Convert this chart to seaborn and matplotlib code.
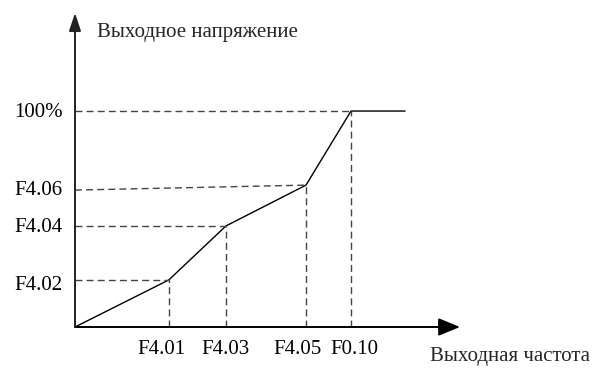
import matplotlib
matplotlib.use("Agg")
import matplotlib.pyplot as plt
import seaborn as sns
import pandas as pd

# Data (normalized: F0.10 frequency = 100, 100% voltage = 100)
point_names_x = ["F4.01", "F4.03", "F4.05", "F0.10"]
point_names_y = ["F4.02", "F4.04", "F4.06", "100%"]
freq = [0, 34.0, 54.7, 83.7, 100.0, 119.6]
volt = [0, 21.8, 46.8, 65.7, 100.0, 100.0]
x_label_pos = [31.2, 54.7, 80.8, 101.4]
y_label_pos = [20.4, 47.2, 64.4, 100.5]
f406_axis_start = 63.4
x_title = "Выходная частота"
y_title = "Выходное напряжение"

sns.set_theme(style="white")
plt.rcParams["font.family"] = ["Liberation Serif", "DejaVu Serif"]

W, H = 593, 370
fig = plt.figure(figsize=(W / 100, H / 100), dpi=100)
ax = fig.add_axes([75 / W, (H - 327) / H, 385 / W, 314 / H])
ax.set_xlim(0, 139.5)
ax.set_ylim(0, 145.4)

df = pd.DataFrame({"f": freq, "v": volt})
sns.lineplot(data=df, x="f", y="v", ax=ax, color="black", lw=1.0, sort=False)

dash = dict(color="#444444", lw=1.0, linestyle=(0, (5, 3)))
for i in range(1, 5):
    xi, yi = freq[i], volt[i]
    ax.plot([xi, xi], [0, yi], **dash)
    y0 = f406_axis_start if i == 3 else yi
    ax.plot([0, xi], [y0, yi], **dash)

for s in ax.spines.values():
    s.set_visible(False)

ax.annotate("", xy=(1, 0), xytext=(0, 0), xycoords="axes fraction",
            arrowprops=dict(arrowstyle="-|>,head_length=1.1,head_width=0.45",
                            color="black", lw=1.4, shrinkA=0, shrinkB=0))
ax.annotate("", xy=(0, 1), xytext=(0, 0), xycoords="axes fraction",
            arrowprops=dict(arrowstyle="-|>,head_length=0.9,head_width=0.3",
                            color="#222222", lw=1.4, shrinkA=0, shrinkB=0))

ax.set_xticks(x_label_pos, point_names_x)
ax.set_yticks(y_label_pos, point_names_y)
ax.tick_params(axis="both", length=0, labelsize=15, colors="black")
ax.tick_params(axis="x", pad=9)
ax.tick_params(axis="y", pad=9)
ax.set_xlabel("")
ax.set_ylabel("")

fig.text(97 / W, 1 - 32 / H, y_title, ha="left", va="center", fontsize=15)
fig.text(430 / W, 1 - 356 / H, x_title, ha="left", va="center", fontsize=15)

fig.savefig("out.png", dpi=100)
